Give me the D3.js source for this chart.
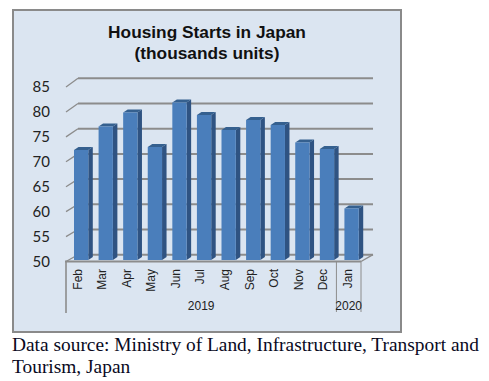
<!DOCTYPE html>
<html>
<head>
<meta charset="utf-8">
<script src="https://cdn.jsdelivr.net/npm/d3@7"></script>
<style>
html,body{margin:0;padding:0;background:#fff;}
svg{display:block;}
</style>
</head>
<body>
<svg id="chart" width="489" height="381"></svg>
<script>
var months = ["Feb","Mar","Apr","May","Jun","Jul","Aug","Sep","Oct","Nov","Dec","Jan"];
var starts = [72,76.7,79.5,72.6,81.5,79,76,78,77,73.5,72.2,60.3];
var yearNames = ["2019","2020"];
var yearFirstMonth = [0,11];
var yTicks = [50,55,60,65,70,75,80,85];
var titleLines = ["Housing Starts in Japan","(thousands units)"];
var sourceLines = ["Data source: Ministry of Land, Infrastructure, Transport and","Tourism, Japan"];

var svg = d3.select('#chart');
var depthX = 4.5, depthY = 3, barW = 14.3;

var x = d3.scaleBand().domain(months).range([66,361]);
var yFront = d3.scaleLinear().domain([50,85]).range([261.5,87]);
var yBack = d3.scaleLinear().domain([50,85]).range([254.7,78.3]);
var yBar = d3.scaleLinear().domain([50,85]).range([260,85]);

svg.append('rect').attr('x',13).attr('y',10).attr('width',388).attr('height',322)
    .attr('fill','#dbe5f1').attr('stroke','#8a8a8a').attr('stroke-width',2);

// title
svg.append('g').selectAll('text').data(titleLines).enter().append('text')
    .attr('x',207).attr('y',function(d,i){return 38+i*21})
    .attr('text-anchor','middle')
    .style('font','bold 17.3px "Liberation Sans"')
    .attr('fill','#111')
    .text(function(d){return d});

// back wall grid + slanted side lines
var grid = svg.append('g').attr('stroke','#8c8c8c').attr('fill','none');
grid.selectAll('line.back').data(yTicks).enter().append('line').attr('class','back')
    .attr('x1',78).attr('x2',373)
    .attr('y1',function(d){return yBack(d)}).attr('y2',function(d){return yBack(d)})
    .attr('stroke-width',2);
grid.selectAll('line.side').data(yTicks).enter().append('line').attr('class','side')
    .attr('x1',66).attr('x2',78)
    .attr('y1',function(d){return yFront(d)}).attr('y2',function(d){return yBack(d)})
    .attr('stroke-width',1.3);
// right end of the floor
grid.append('line').attr('x1',361).attr('x2',373)
    .attr('y1',yFront(50)).attr('y2',yBack(50)).attr('stroke-width',1.4);

// bars
var bars = svg.append('g').selectAll('g').data(starts).enter().append('g');
function barX(i){return x(months[i])+8};
bars.append('path').attr('fill','#2f5382').attr('d',function(d,i){
    var l = barX(i)+barW, t = yBar(d), b = yBar(50);
    return 'M'+l+','+t+'L'+(l+depthX)+','+(t-depthY)+'L'+(l+depthX)+','+(b-depthY)+'L'+l+','+b+'Z';
});
bars.append('path').attr('fill','#35608f').attr('d',function(d,i){
    var l = barX(i), t = yBar(d);
    return 'M'+l+','+t+'L'+(l+depthX)+','+(t-depthY)+'L'+(l+barW+depthX)+','+(t-depthY)+'L'+(l+barW)+','+t+'Z';
});
bars.append('rect').attr('fill','#4a7ebb')
    .attr('x',function(d,i){return barX(i)})
    .attr('y',function(d){return yBar(d)})
    .attr('width',barW)
    .attr('height',function(d){return yBar(50)-yBar(d)});

// y axis labels
var yAxis = svg.append('g').attr('transform','translate(50,0)')
    .call(d3.axisLeft(yFront).tickValues(yTicks).tickSize(0).tickPadding(0));
yAxis.select('.domain').remove();
yAxis.selectAll('text').style('font','15px Lato').attr('fill','#222');

// floor front edge and multi level axis lines
var axisLines = svg.append('g').attr('stroke','#8c8c8c').attr('fill','none');
axisLines.append('line').attr('x1',65).attr('x2',361).attr('y1',yFront(50)).attr('y2',yFront(50)).attr('stroke-width',2);
axisLines.append('line').attr('x1',66).attr('x2',66).attr('y1',yFront(50)).attr('y2',313).attr('stroke-width',1.6);
axisLines.append('line').attr('x1',x('Jan')).attr('x2',x('Jan')).attr('y1',yFront(50)).attr('y2',312).attr('stroke-width',1);
axisLines.append('line').attr('x1',361).attr('x2',361).attr('y1',yFront(50)).attr('y2',312).attr('stroke-width',1);

// month labels
svg.append('g').selectAll('text').data(months).enter().append('text')
    .attr('transform',function(d){return 'translate('+(x(d)+15.5)+',269) rotate(-90)'})
    .attr('text-anchor','end')
    .style('font','12px "Liberation Sans"')
    .attr('fill','#222')
    .text(function(d){return d});

// year labels
svg.append('g').selectAll('text').data(yearNames).enter().append('text')
    .attr('x',function(d,i){
        var first = x(months[yearFirstMonth[i]]);
        var next = i+1<yearNames.length ? x(months[yearFirstMonth[i+1]]) : 361;
        return (first+next)/2;
    })
    .attr('y',310)
    .attr('text-anchor','middle')
    .style('font','12px "Liberation Sans"')
    .attr('fill','#222')
    .text(function(d){return d});

// source note
svg.append('g').selectAll('text').data(sourceLines).enter().append('text')
    .attr('x',12).attr('y',function(d,i){return 351+i*22})
    .style('font','19.4px "Liberation Serif"')
    .attr('fill','#0a0a1e')
    .text(function(d){return d});
</script>
</body>
</html>
